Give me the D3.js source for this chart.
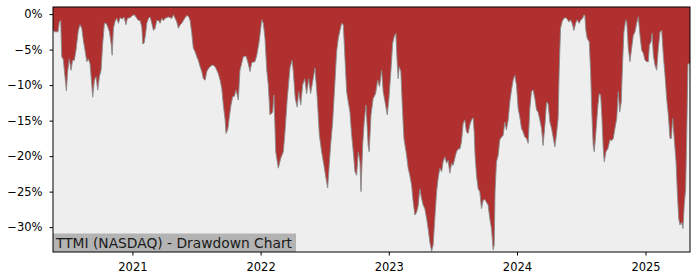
<!DOCTYPE html>
<html>
<head>
<meta charset="utf-8">
<script src="https://cdn.jsdelivr.net/npm/d3@7"></script>
<style>
  body { margin: 0; background: #fff; }
  text { font-family: "DejaVu Sans", sans-serif; }
</style>
</head>
<body>
<div id="chart"></div>
<script>
// dates as fractional years, drawdown in percent
const years = [
  2020.382, 2020.397, 2020.421, 2020.431, 2020.442, 2020.450, 2020.462, 2020.475, 2020.486, 2020.496,
  2020.509, 2020.522, 2020.535, 2020.548, 2020.561, 2020.579, 2020.592, 2020.606, 2020.618, 2020.631,
  2020.645, 2020.657, 2020.670, 2020.684, 2020.691, 2020.704, 2020.717, 2020.730, 2020.743, 2020.756,
  2020.769, 2020.782, 2020.795, 2020.808, 2020.821, 2020.834, 2020.842, 2020.852, 2020.865, 2020.878,
  2020.891, 2020.904, 2020.922, 2020.935, 2020.949, 2020.961, 2020.982, 2021.000, 2021.016, 2021.034,
  2021.047, 2021.060, 2021.073, 2021.081, 2021.091, 2021.101, 2021.112, 2021.125, 2021.138, 2021.151,
  2021.164, 2021.177, 2021.190, 2021.203, 2021.216, 2021.229, 2021.242, 2021.255, 2021.281, 2021.307,
  2021.320, 2021.333, 2021.346, 2021.359, 2021.372, 2021.385, 2021.398, 2021.411, 2021.424, 2021.437,
  2021.450, 2021.463, 2021.475, 2021.489, 2021.502, 2021.514, 2021.528, 2021.541, 2021.553, 2021.567,
  2021.580, 2021.592, 2021.606, 2021.619, 2021.631, 2021.645, 2021.658, 2021.670, 2021.684, 2021.697,
  2021.709, 2021.723, 2021.730, 2021.744, 2021.756, 2021.769, 2021.783, 2021.795, 2021.808, 2021.818,
  2021.826, 2021.839, 2021.865, 2021.886, 2021.904, 2021.917, 2021.931, 2021.956, 2021.970, 2021.990,
  2022.009, 2022.021, 2022.034, 2022.048, 2022.060, 2022.073, 2022.094, 2022.104, 2022.118, 2022.138,
  2022.157, 2022.177, 2022.190, 2022.208, 2022.229, 2022.245, 2022.255, 2022.270, 2022.286, 2022.297,
  2022.313, 2022.328, 2022.344, 2022.359, 2022.375, 2022.390, 2022.406, 2022.424, 2022.442, 2022.458,
  2022.476, 2022.494, 2022.510, 2022.523, 2022.535, 2022.546, 2022.562, 2022.580, 2022.593, 2022.606,
  2022.619, 2022.632, 2022.645, 2022.658, 2022.671, 2022.684, 2022.697, 2022.710, 2022.723, 2022.736,
  2022.749, 2022.762, 2022.775, 2022.783, 2022.796, 2022.808, 2022.822, 2022.839, 2022.847, 2022.861,
  2022.878, 2022.897, 2022.913, 2022.928, 2022.944, 2022.956, 2022.975, 2022.988, 2023.001, 2023.016,
  2023.030, 2023.042, 2023.055, 2023.065, 2023.073, 2023.081, 2023.094, 2023.104, 2023.118, 2023.139,
  2023.151, 2023.164, 2023.178, 2023.190, 2023.203, 2023.217, 2023.229, 2023.242, 2023.256, 2023.268,
  2023.281, 2023.295, 2023.307, 2023.320, 2023.334, 2023.346, 2023.359, 2023.373, 2023.385, 2023.398,
  2023.412, 2023.424, 2023.437, 2023.451, 2023.463, 2023.476, 2023.490, 2023.502, 2023.515, 2023.528,
  2023.541, 2023.554, 2023.567, 2023.580, 2023.593, 2023.606, 2023.619, 2023.632, 2023.645, 2023.658,
  2023.666, 2023.673, 2023.684, 2023.697, 2023.710, 2023.723, 2023.736, 2023.749, 2023.762, 2023.775,
  2023.788, 2023.801, 2023.814, 2023.822, 2023.829, 2023.840, 2023.853, 2023.866, 2023.879, 2023.892,
  2023.905, 2023.918, 2023.931, 2023.944, 2023.957, 2023.970, 2023.983, 2023.996, 2024.009, 2024.022,
  2024.035, 2024.048, 2024.061, 2024.074, 2024.087, 2024.100, 2024.113, 2024.126, 2024.139, 2024.152,
  2024.164, 2024.178, 2024.191, 2024.203, 2024.217, 2024.230, 2024.242, 2024.256, 2024.269, 2024.281,
  2024.295, 2024.308, 2024.320, 2024.328, 2024.339, 2024.352, 2024.365, 2024.378, 2024.391, 2024.404,
  2024.417, 2024.429, 2024.443, 2024.456, 2024.468, 2024.484, 2024.497, 2024.511, 2024.521, 2024.528,
  2024.536, 2024.546, 2024.562, 2024.573, 2024.583, 2024.593, 2024.601, 2024.614, 2024.630, 2024.640,
  2024.651, 2024.661, 2024.671, 2024.679, 2024.692, 2024.708, 2024.723, 2024.737, 2024.749, 2024.762,
  2024.776, 2024.788, 2024.799, 2024.811, 2024.822, 2024.832, 2024.846, 2024.854, 2024.866, 2024.879,
  2024.892, 2024.905, 2024.918, 2024.931, 2024.944, 2024.957, 2024.970, 2024.983, 2024.996, 2025.009,
  2025.022, 2025.030, 2025.043, 2025.051, 2025.061, 2025.074, 2025.087, 2025.100, 2025.113, 2025.126,
  2025.139, 2025.152, 2025.165, 2025.178, 2025.191, 2025.201, 2025.212, 2025.224, 2025.238, 2025.248,
  2025.259, 2025.269, 2025.282, 2025.292, 2025.302, 2025.313, 2025.321, 2025.331, 2025.347
];
const drawdown = [
  -2.3, -2.5, -2.5, -1.1, -0.9, -6.0, -6.4, -8.8, -10.8, -8.1,
  -6.3, -7.9, -6.5, -6.5, -5.1, -2.3, -1.5, -2.0, -3.7, -5.1,
  -6.7, -6.3, -7.0, -10.0, -11.7, -9.3, -8.8, -10.7, -8.8, -7.9,
  -4.1, -1.3, -1.3, -1.8, -2.5, -4.1, -5.8, -2.0, -1.0, -0.6,
  -1.3, -0.5, -0.7, -0.4, -1.5, -0.6, -0.5, -0.2, -0.1, -0.6,
  -0.9, -0.9, -1.8, -4.2, -4.1, -3.0, -1.3, -0.6, -0.4, -1.3,
  -2.3, -2.0, -0.9, -0.9, -1.3, -0.6, -0.9, -0.6, -0.4, -0.6,
  -0.1, -0.6, -1.1, -2.0, -1.5, -1.3, -0.9, -0.5, -0.2, -0.3,
  -0.9, -2.7, -4.8, -5.3, -6.0, -6.5, -7.4, -8.1, -9.1, -9.3,
  -8.1, -7.7, -7.4, -7.2, -7.2, -7.4, -7.9, -8.4, -9.3, -10.5,
  -12.8, -14.9, -16.8, -16.2, -14.5, -12.8, -11.6, -11.6, -10.7, -11.4,
  -12.1, -7.9, -6.0, -5.9, -7.0, -8.1, -6.8, -6.7, -5.8, -3.7,
  -0.8, -1.3, -3.4, -7.9, -10.0, -14.2, -13.8, -11.4, -19.4, -21.7,
  -20.3, -19.4, -16.6, -11.9, -7.6, -6.5, -8.1, -11.9, -13.1, -10.9,
  -12.8, -10.0, -9.1, -11.2, -9.1, -11.2, -9.5, -7.6, -11.9, -17.0,
  -19.4, -21.3, -23.1, -24.5, -21.3, -18.5, -15.2, -9.5, -5.3, -3.4,
  -2.3, -1.3, -1.5, -6.2, -10.9, -12.4, -13.8, -17.0, -19.4, -22.2,
  -22.7, -19.4, -20.8, -25.0, -18.5, -15.2, -12.8, -18.5, -19.4, -14.2,
  -11.9, -11.2, -9.3, -10.2, -7.9, -10.9, -12.8, -14.2, -11.9, -8.1,
  -4.1, -3.2, -2.7, -6.7, -9.1, -7.4, -8.1, -12.4, -17.5, -19.9,
  -21.7, -22.7, -24.1, -26.4, -28.3, -27.9, -27.0, -24.6, -26.0, -26.9,
  -27.4, -28.8, -30.2, -32.1, -33.4, -32.5, -28.8, -25.0, -23.1, -21.7,
  -22.2, -20.8, -20.1, -21.0, -20.6, -22.4, -21.0, -21.3, -20.3, -19.4,
  -19.0, -19.0, -18.0, -15.4, -14.9, -16.6, -16.8, -15.6, -14.9, -14.6,
  -16.6, -19.9, -22.7, -24.6, -25.0, -27.4, -26.2, -26.1, -26.5, -26.9,
  -28.8, -30.2, -33.2, -32.5, -25.0, -20.8, -19.9, -17.7, -17.3, -17.1,
  -15.2, -16.3, -14.9, -12.4, -10.7, -9.3, -8.6, -10.0, -13.3, -14.5,
  -16.1, -16.6, -17.3, -17.5, -18.2, -13.3, -10.9, -10.7, -11.9, -13.5,
  -13.8, -14.9, -16.1, -18.5, -15.7, -12.4, -12.6, -15.2, -16.1, -17.3,
  -18.7, -16.8, -14.7, -8.1, -2.0, -1.0, -0.6, -0.5, -0.7, -1.1,
  -0.8, -1.3, -2.3, -1.3, -0.8, -1.3, -0.8, -0.6, -0.1, -0.2,
  -2.3, -3.4, -3.9, -8.1, -14.2, -18.5, -19.4, -16.6, -12.8, -11.2,
  -11.4, -14.7, -18.9, -20.8, -19.4, -18.9, -17.7, -17.8, -17.5, -16.1,
  -14.7, -10.9, -13.8, -12.4, -6.7, -2.5, -0.8, -1.1, -4.8, -6.7,
  -4.8, -3.0, -2.5, -1.3, -0.4, -3.0, -5.1, -5.5, -6.5, -6.7,
  -6.7, -4.4, -3.9, -2.7, -5.8, -7.2, -7.9, -4.8, -2.5, -2.3,
  -5.8, -8.6, -11.9, -14.2, -17.5, -17.5, -14.7, -17.5, -20.8, -25.0,
  -28.8, -29.7, -29.3, -30.2, -26.9, -24.6, -17.5, -7.0, -7.0
];
const yTicks = [0, -5, -10, -15, -20, -25, -30];
const xTicks = [2021, 2022, 2023, 2024, 2025];
const title = "TTMI (NASDAQ) - Drawdown Chart";

function yearToDate(v) {
  let y = Math.floor(v);
  let a = new Date(y, 0, 1), b = new Date(y + 1, 0, 1);
  return new Date(+a + (v - y) * (b - a));
}

let data = years.map((v, i) => ({ date: yearToDate(v), dd: drawdown[i] }));

let width = 700, height = 280;
let plotLeft = 53, plotRight = 690, plotTop = 7, plotBottom = 252;

let svg = d3.select("#chart").append("svg")
  .attr("width", width)
  .attr("height", height);

let x = d3.scaleTime()
  .domain(d3.extent(data, d => d.date))
  .range([plotLeft, plotRight]);

let y = d3.scaleLinear()
  .domain([-33.5, 1])
  .range([plotBottom, plotTop]);

// red where the price sits below its running peak
svg.append("rect")
  .attr("x", plotLeft).attr("y", plotTop)
  .attr("width", plotRight - plotLeft).attr("height", plotBottom - plotTop)
  .attr("fill", "#b03030");

// light area under the drawdown curve
let area = d3.area()
  .x(d => x(d.date))
  .y0(plotBottom)
  .y1(d => y(d.dd));

svg.append("path")
  .datum(data)
  .attr("d", area)
  .attr("fill", "#eeeeee");

let line = d3.line()
  .x(d => x(d.date))
  .y(d => y(d.dd));

svg.append("path")
  .datum(data)
  .attr("d", line)
  .attr("fill", "none")
  .attr("stroke", "#8a8a8a")
  .attr("stroke-width", 0.9);

// title box bottom-left
svg.append("rect")
  .attr("x", plotLeft).attr("y", 233.5)
  .attr("width", 243).attr("height", plotBottom - 233.5)
  .attr("fill", "#b3b3b3");

svg.append("text")
  .attr("x", 56)
  .attr("y", 247.5)
  .style("font-size", "13.8px")
  .attr("fill", "#1a1a1a")
  .text(title);

// axes
let yAxis = d3.axisLeft(y)
  .tickValues(yTicks)
  .tickSize(3.5)
  .tickPadding(7)
  .tickFormat(d => d === 0 ? "0%" : "\u2212" + Math.abs(d) + "%");

let xAxis = d3.axisBottom(x)
  .tickValues(xTicks.map(v => new Date(v, 0, 1)))
  .tickSize(3.5)
  .tickPadding(7)
  .tickFormat(d3.timeFormat("%Y"));

let gy = svg.append("g")
  .attr("transform", "translate(" + plotLeft + ",0)")
  .call(yAxis);

let gx = svg.append("g")
  .attr("transform", "translate(0," + plotBottom + ")")
  .call(xAxis);

[gx, gy].forEach(g => {
  g.select(".domain").remove();
  g.selectAll(".tick line").attr("stroke", "#000").attr("stroke-width", 1);
  g.selectAll(".tick text")
    .attr("fill", "#000")
    .style("font-size", "11.5px")
    .style("font-family", "DejaVu Sans, sans-serif");
});

// frame
svg.append("rect")
  .attr("x", plotLeft).attr("y", plotTop)
  .attr("width", plotRight - plotLeft).attr("height", plotBottom - plotTop)
  .attr("fill", "none")
  .attr("stroke", "#000")
  .attr("stroke-width", 1);
</script>
</body>
</html>
